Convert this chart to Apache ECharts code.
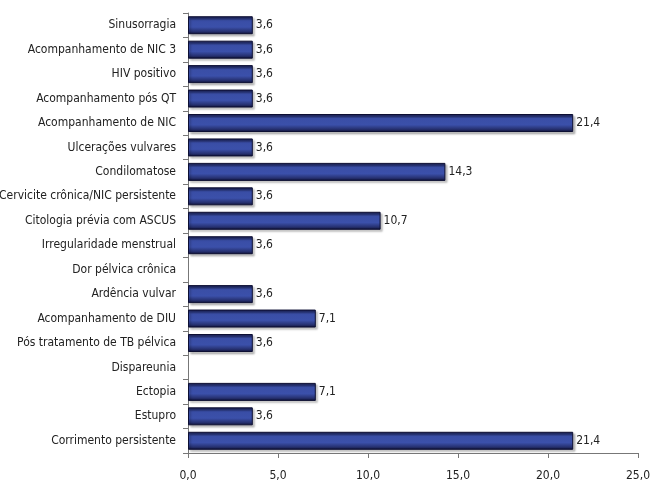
<!DOCTYPE html>
<html><head><meta charset="utf-8">
<script src="https://cdn.jsdelivr.net/npm/echarts@6/dist/echarts.min.js"></script>
<style>html,body{margin:0;padding:0;background:#fff}#c{width:653px;height:483px}</style>
</head><body><div id="c"></div>
<script>
const categories = ["Corrimento persistente","Estupro","Ectopia","Dispareunia","Pós tratamento de TB pélvica","Acompanhamento de DIU","Ardência vulvar","Dor pélvica crônica","Irregularidade menstrual","Citologia prévia com ASCUS","Cervicite crônica/NIC persistente","Condilomatose","Ulcerações vulvares","Acompanhamento de NIC","Acompanhamento pós QT","HIV positivo","Acompanhamento de NIC 3","Sinusorragia"];
const values = [21.4,3.6,7.1,null,3.6,7.1,3.6,null,3.6,10.7,3.6,14.3,3.6,21.4,3.6,3.6,3.6,3.6];
const xTicks = [0,5,10,15,20,25];
const FONT = "'DejaVu Sans Condensed','Liberation Sans Narrow',sans-serif";
const fmt = v => v.toFixed(1).replace('.', ',');
const chart = echarts.init(document.getElementById('c'));
chart.setOption({
  animation:false,
  grid:{left:188,right:15,top:13,bottom:30,containLabel:false,outerBoundsMode:'none'},
  xAxis:{type:'value',min:xTicks[0],max:xTicks[xTicks.length-1],interval:5,
    axisLine:{show:true,lineStyle:{color:'#777'}},
    axisTick:{show:true,length:5,lineStyle:{color:'#777'}},
    splitLine:{show:false},
    axisLabel:{fontFamily:FONT,fontSize:12,color:'#222',margin:17,formatter:fmt}},
  yAxis:{type:'category',data:categories,
    axisLine:{show:true,lineStyle:{color:'#777'}},
    axisTick:{show:true,length:5,lineStyle:{color:'#777'}},
    axisLabel:{fontFamily:FONT,fontSize:12,color:'#222',margin:12}},
  series:[{type:'bar',data:values,barWidth:18,
    itemStyle:{borderColor:'#0d0f33',borderWidth:1,
      shadowColor:'rgba(0,0,0,0.25)',shadowOffsetX:2,shadowOffsetY:2,shadowBlur:2,
      color:new echarts.graphic.LinearGradient(0,0,0,1,[
        {offset:0,color:'#141845'},{offset:0.25,color:'#3a4ea6'},
        {offset:0.6,color:'#3b50aa'},{offset:0.85,color:'#26306f'},{offset:1,color:'#0c0e30'}])},
    label:{show:true,position:'right',distance:3,fontFamily:FONT,fontSize:12,color:'#222',
      formatter:p=>p.value==null?'':fmt(p.value)}}]
});
</script></body></html>
